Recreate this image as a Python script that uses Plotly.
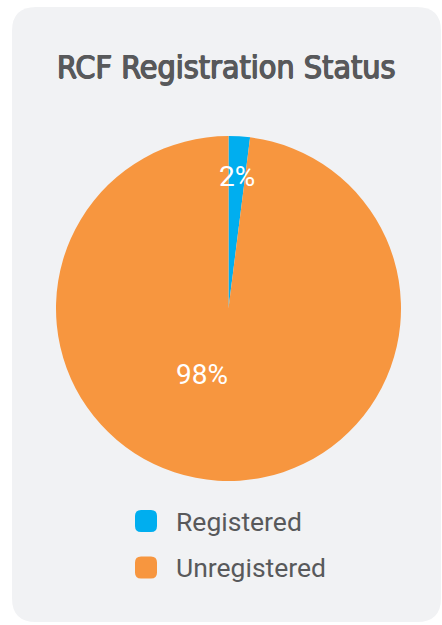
import math
import plotly.graph_objects as go

# ---- data ----
categories = ["Registered", "Unregistered"]
values = [2, 98]
colors = ["#00aeef", "#f7963f"]
title_text = "RCF Registration Status"

W, H = 442, 625
TEXT_GRAY = "#58595b"
CARD = "#f1f2f4"

def px(x):
    return x / W

def py(y):
    return 1 - y / H

# pie geometry (pixels)
cx, cy, r = 228.5, 308.5, 172.5

fig = go.Figure()
fig.add_trace(go.Pie(
    labels=categories,
    values=values,
    marker=dict(colors=colors, line=dict(width=0)),
    sort=False,
    direction="clockwise",
    rotation=0,
    textinfo="none",
    hoverinfo="label+percent",
    showlegend=False,
    domain=dict(x=[px(cx - r), px(cx + r)], y=[py(cy + r), py(cy - r)]),
))

# rounded card background
def rounded_rect(x0, y0, x1, y1, rad):
    return (
        f"M {px(x0 + rad)} {py(y0)} L {px(x1 - rad)} {py(y0)} "
        f"Q {px(x1)} {py(y0)} {px(x1)} {py(y0 + rad)} "
        f"L {px(x1)} {py(y1 - rad)} "
        f"Q {px(x1)} {py(y1)} {px(x1 - rad)} {py(y1)} "
        f"L {px(x0 + rad)} {py(y1)} "
        f"Q {px(x0)} {py(y1)} {px(x0)} {py(y1 - rad)} "
        f"L {px(x0)} {py(y0 + rad)} "
        f"Q {px(x0)} {py(y0)} {px(x0 + rad)} {py(y0)} Z"
    )

shapes = [dict(type="path", xref="paper", yref="paper",
               path=rounded_rect(12, 7, 441, 622, 24),
               fillcolor=CARD, line=dict(width=0), layer="below")]

annotations = [dict(text=title_text, xref="paper", yref="paper",
                    x=px(226.5), y=py(67), xanchor="center", yanchor="middle",
                    showarrow=False,
                    font=dict(family="DejaVu Sans Condensed, Liberation Sans Narrow, sans-serif",
                              size=32, color=TEXT_GRAY,
                              shadow="0.7px 0 0 #58595b, -0.7px 0 0 #58595b, 0 0.5px 0 #58595b"))]

# slice percentage labels
total = sum(values)
label_r = [0.765, 0.41]
label_shift = [0.0, 18.0]  # angular adjustment in degrees
start = 0.0
for v, lr, sh in zip(values, label_r, label_shift):
    frac = v / total
    mid = (start + frac / 2) * 360 + sh
    start += frac
    lx = cx + lr * r * math.sin(math.radians(mid))
    ly = cy - lr * r * math.cos(math.radians(mid))
    annotations.append(dict(text=f"{round(frac * 100)}%", xref="paper", yref="paper",
                            x=px(lx), y=py(ly), xanchor="center", yanchor="middle",
                            showarrow=False,
                            font=dict(family="Roboto", size=28, color="white")))

# custom legend
leg_x0, leg_y0, leg_dy, box = 135, 510, 46.5, 22
for i, (cat, col) in enumerate(zip(categories, colors)):
    y0 = leg_y0 + i * leg_dy
    shapes.append(dict(type="path", xref="paper", yref="paper",
                       path=rounded_rect(leg_x0, y0, leg_x0 + box, y0 + box, 6),
                       fillcolor=col, line=dict(width=0)))
    annotations.append(dict(text=cat, xref="paper", yref="paper",
                            x=px(173.5), y=py(y0 + box / 2), xanchor="left", yanchor="middle",
                            showarrow=False,
                            font=dict(family="Roboto", size=26.5, color=TEXT_GRAY)))

fig.update_layout(
    width=W, height=H,
    margin=dict(l=0, r=0, t=0, b=0),
    paper_bgcolor="white",
    plot_bgcolor="white",
    shapes=shapes,
    annotations=annotations,
)

fig.write_html("out.html", config={"displayModeBar": False},
               post_script="document.body.style.margin='0';document.body.style.overflow='hidden';")
